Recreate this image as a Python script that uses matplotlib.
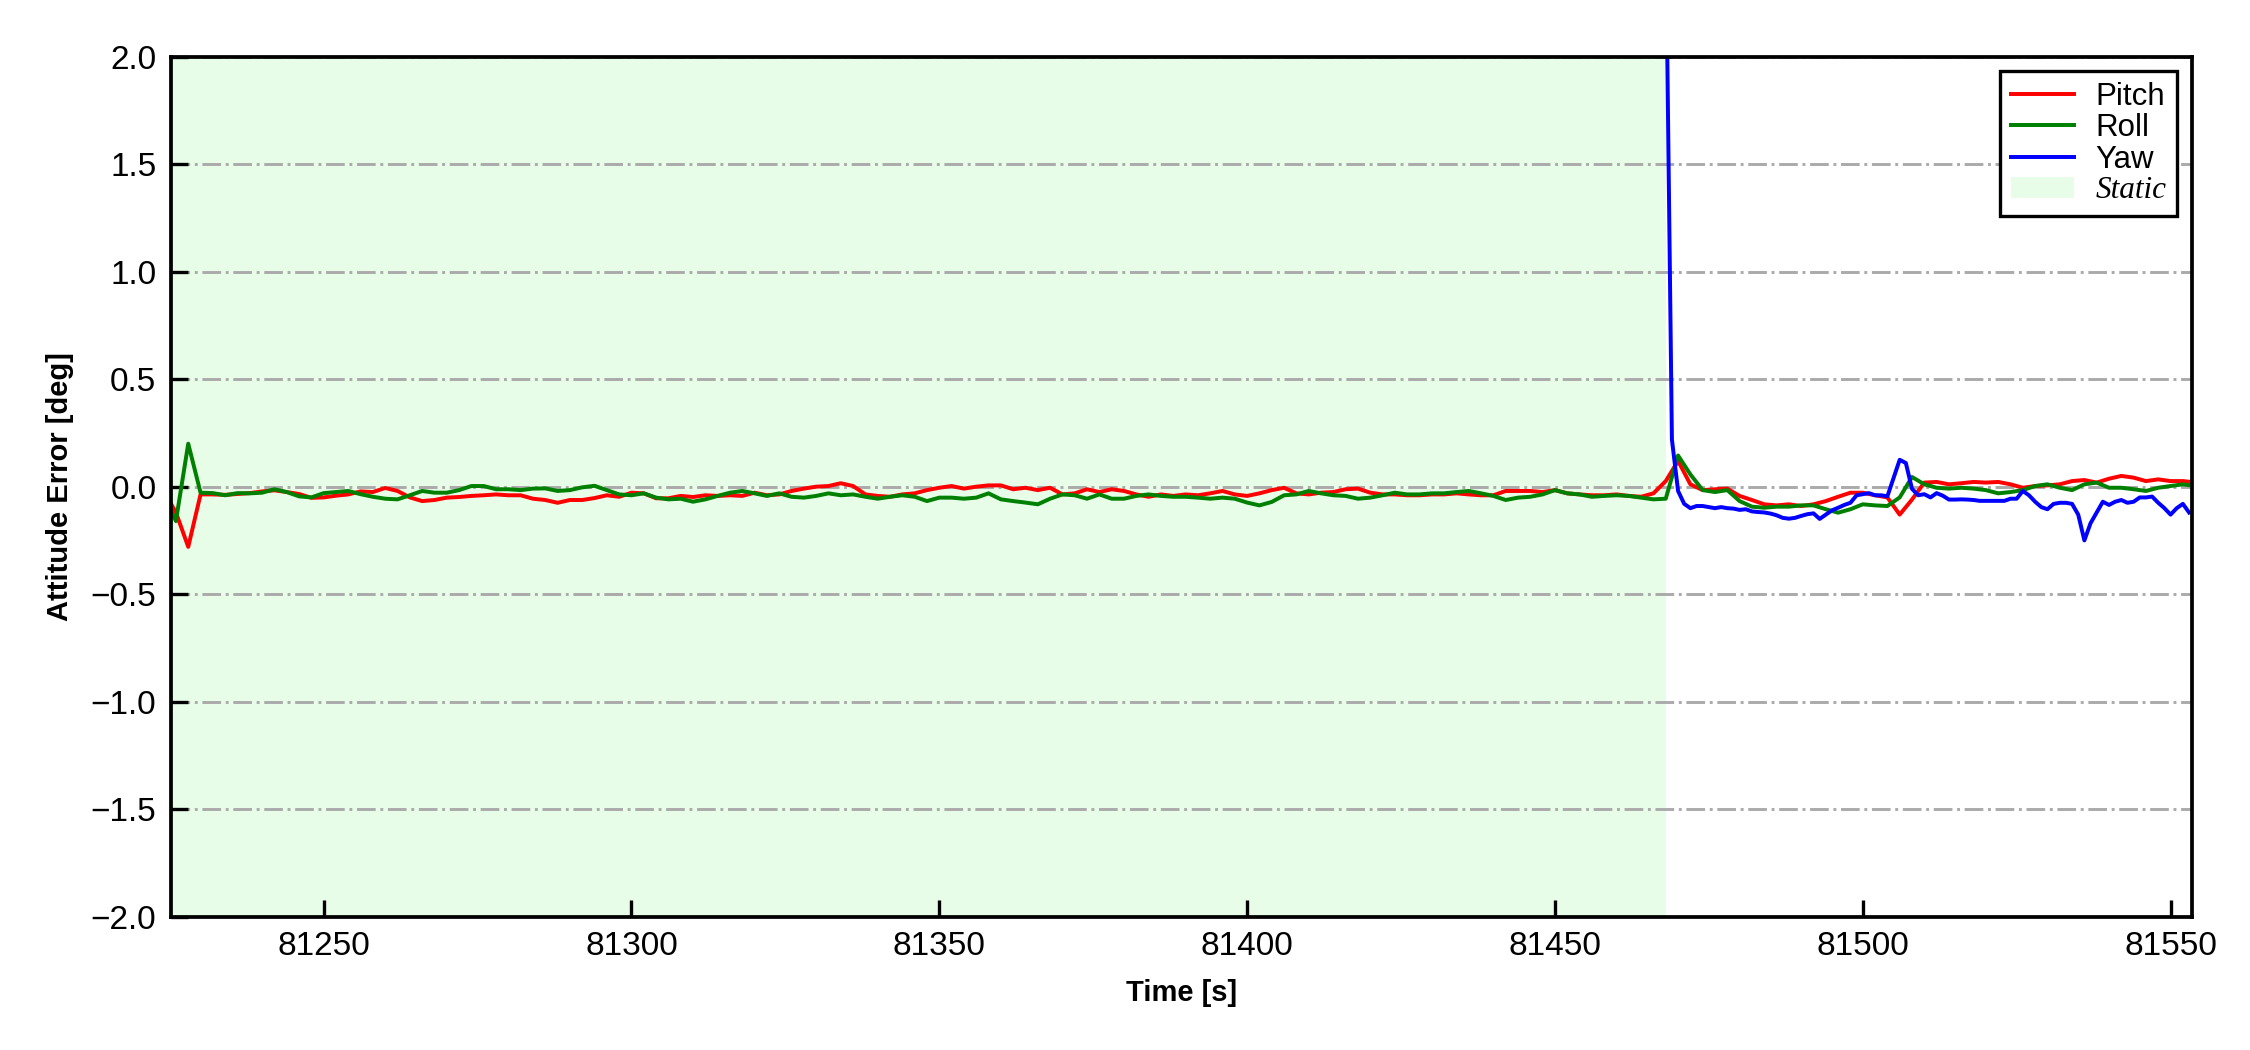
import numpy as np
from matplotlib import pyplot as plt

plt.rcParams['font.family'] = ['Liberation Sans', 'DejaVu Sans']

# pitch / roll sampled every 2 s
t_pr = np.arange(81224, 81555, 2)
pitch = [
    -0.02, -0.12, -0.28, -0.036, -0.036, -0.038, -0.034, -0.03, -0.022, -0.017,
    -0.025, -0.034, -0.052, -0.05, -0.042, -0.036, -0.022, -0.025, -0.006, -0.02,
    -0.05, -0.067, -0.062, -0.051, -0.048, -0.043, -0.04, -0.036,
    -0.04, -0.04, -0.056, -0.062, -0.075, -0.062, -0.062, -0.053, -0.04, -0.047,
    -0.028, -0.031, -0.054, -0.054, -0.043, -0.048, -0.04, -0.043, -0.04, -0.043,
    -0.028, -0.04, -0.036, -0.02, -0.009, 0.0, 0.003, 0.016,
    0.003, -0.036, -0.043, -0.047, -0.036, -0.031, -0.016, -0.005, 0.003, -0.009,
    0.0, 0.006, 0.006, -0.012, -0.005, -0.016, -0.005, -0.036, -0.031, -0.012,
    -0.025, -0.012, -0.02, -0.036, -0.047, -0.036, -0.043,
    -0.036, -0.04, -0.031, -0.02, -0.036, -0.043, -0.031, -0.016, -0.005, -0.031,
    -0.036, -0.028, -0.025, -0.012, -0.009, -0.028, -0.036, -0.036, -0.04, -0.04,
    -0.036, -0.036, -0.031, -0.036, -0.04, -0.04, -0.02, -0.02,
    -0.02, -0.025, -0.016, -0.031, -0.036, -0.04, -0.04, -0.036, -0.043, -0.047,
    -0.031, 0.026, 0.12, 0.011, -0.016, -0.012, -0.009, -0.043, -0.062, -0.082,
    -0.087, -0.082, -0.09, -0.082, -0.067, -0.047, -0.028, -0.028,
    -0.04, -0.05, -0.13, -0.06, 0.019, 0.022, 0.011, 0.016, 0.022, 0.019,
    0.022, 0.011, -0.005, 0.003, 0.006, 0.011, 0.026, 0.031, 0.019, 0.037,
    0.05, 0.042, 0.026, 0.034, 0.026, 0.026, 0.02,
]
roll = [
    -0.04, -0.16, 0.20, -0.028, -0.03, -0.04, -0.03, -0.031, -0.028, -0.012,
    -0.025, -0.045, -0.05, -0.03, -0.025, -0.02, -0.035, -0.047, -0.056, -0.059,
    -0.04, -0.02, -0.028, -0.028, -0.016, 0.003, 0.003, -0.012,
    -0.012, -0.016, -0.009, -0.008, -0.02, -0.016, -0.003, 0.004, -0.016, -0.036,
    -0.04, -0.031, -0.051, -0.059, -0.056, -0.07, -0.059, -0.043, -0.028, -0.02,
    -0.031, -0.043, -0.031, -0.047, -0.051, -0.043, -0.031, -0.04,
    -0.036, -0.047, -0.056, -0.047, -0.04, -0.047, -0.067, -0.051, -0.051, -0.056,
    -0.051, -0.031, -0.059, -0.067, -0.074, -0.082, -0.056, -0.036, -0.04, -0.056,
    -0.036, -0.056, -0.056, -0.043, -0.036, -0.043, -0.047,
    -0.047, -0.051, -0.056, -0.051, -0.056, -0.074, -0.087, -0.071, -0.04, -0.036,
    -0.02, -0.031, -0.04, -0.043, -0.056, -0.051, -0.04, -0.028, -0.036, -0.036,
    -0.031, -0.031, -0.025, -0.02, -0.031, -0.043, -0.062, -0.051,
    -0.047, -0.036, -0.016, -0.031, -0.036, -0.047, -0.043, -0.04, -0.043, -0.051,
    -0.059, -0.056, 0.145, 0.057, -0.016, -0.025, -0.016, -0.067, -0.093, -0.098,
    -0.093, -0.093, -0.087, -0.087, -0.105, -0.121, -0.105, -0.082,
    -0.087, -0.09, -0.05, 0.045, 0.011, -0.005, -0.009, -0.005, -0.009, -0.016,
    -0.031, -0.025, -0.016, 0.003, 0.011, -0.005, -0.016, 0.011, 0.019, -0.005,
    -0.005, -0.012, -0.02, -0.005, 0.003, 0.011, 0.003,
]

# yaw sampled every 1 s, only after the static period
t_yaw = np.arange(81468, 81554, 1)
yaw = [
    2.6, 0.22, -0.02, -0.08, -0.1, -0.09, -0.09, -0.095, -0.1, -0.095,
    -0.1, -0.102, -0.108, -0.105, -0.115, -0.118, -0.12, -0.125, -0.133, -0.145,
    -0.149, -0.145, -0.136, -0.128, -0.124, -0.15, -0.13, -0.11, -0.098, -0.085,
    -0.075, -0.04, -0.035,
    -0.03, -0.04, -0.04, -0.045, 0.04, 0.125, 0.11, -0.01, -0.04, -0.035,
    -0.05, -0.03, -0.042, -0.06, -0.06, -0.059, -0.06, -0.062, -0.066, -0.066,
    -0.066, -0.066, -0.066, -0.056, -0.056, -0.02, -0.04, -0.07, -0.095, -0.105,
    -0.08, -0.075, -0.075, -0.08, -0.13, -0.25, -0.17, -0.12, -0.07, -0.085,
    -0.07, -0.062, -0.075, -0.07, -0.05, -0.05, -0.046, -0.075, -0.1, -0.13,
    -0.1, -0.08, -0.12,
]

static_start, static_end = 81225, 81468

fig = plt.figure(dpi=300, figsize=(7.5, 3.5))
ax = fig.add_axes([0.076, 0.127, 0.898, 0.819])

ax.axvspan(static_start, static_end, facecolor='#e8fde8', edgecolor='none', label='Static', zorder=0)
ax.plot(t_pr, pitch, c='red', lw=0.95, label='Pitch')
ax.plot(t_pr, roll, c='green', lw=0.95, label='Roll')
ax.plot(t_yaw, yaw, c='blue', lw=0.95, label='Yaw')

ax.set_xlim(81225.2, 81553.4)
ax.set_ylim(-2, 2)
ax.set_yticks(np.arange(-2, 2.01, 0.5))
ax.set_xticks(np.arange(81250, 81551, 50))
ax.ticklabel_format(axis='x', useOffset=False, style='plain')
ax.yaxis.grid(True, linestyle='-.', color='#aaaaaa', lw=0.7)
ax.set_axisbelow(True)

ax.tick_params(axis='both', which='major', direction='in', labelsize=8, length=4, width=0.8)
for s in ax.spines.values():
    s.set_linewidth(0.9)

ax.set_xlabel('Time [s]', fontsize=7, fontweight='bold')
ax.set_ylabel('Attitude Error [deg]', fontsize=7, fontweight='bold')

handles, labels = ax.get_legend_handles_labels()
order = [1, 2, 3, 0]
leg = ax.legend([handles[i] for i in order], [labels[i] for i in order],
                loc='upper right', fontsize=7.5, fancybox=False, edgecolor='black',
                framealpha=1, borderaxespad=0.45, borderpad=0.35, handlelength=2.0,
                handletextpad=0.7, labelspacing=0.05)
leg.get_frame().set_linewidth(0.8)
leg.get_texts()[3].set_fontfamily(['Liberation Serif'])
leg.get_texts()[3].set_fontstyle('italic')

plt.savefig('out.png', dpi=300)
